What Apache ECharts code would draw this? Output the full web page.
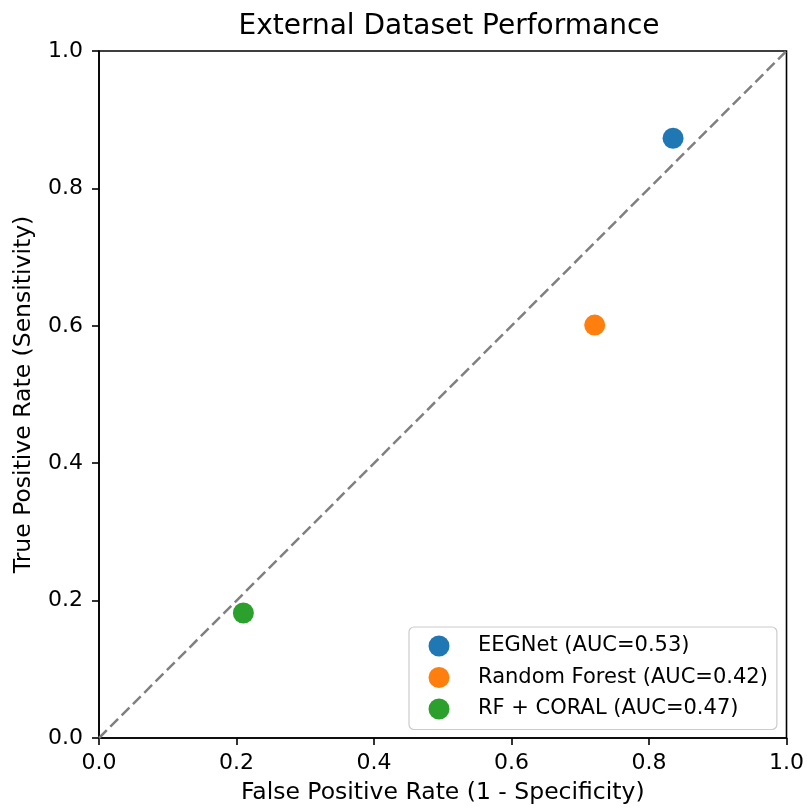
<!DOCTYPE html>
<html>
<head>
<meta charset="utf-8">
<script src="https://cdn.jsdelivr.net/npm/echarts@6/dist/echarts.min.js"></script>
<style>
  html, body { margin: 0; padding: 0; background: #fff; }
  #chart { width: 807px; height: 810px; }
</style>
</head>
<body>
<div id="chart"></div>
<script>
const modelNames = ['EEGNet (AUC=0.53)', 'Random Forest (AUC=0.42)', 'RF + CORAL (AUC=0.47)']
const modelColors = ['#1f77b4', '#ff7f0e', '#2ca02c']
const fprValues = [0.835, 0.721, 0.210]
const tprValues = [0.873, 0.601, 0.182]
const chanceLine = [[0, 0], [1, 1]]

const font = 'DejaVu Sans'
const chart = echarts.init(document.getElementById('chart'))

const axisCommon = {
  type: 'value',
  min: 0,
  max: 1,
  interval: 0.2,
  nameLocation: 'middle',
  nameTextStyle: { fontFamily: font, fontSize: 23.5, color: '#000' },
  axisLine: { show: true, lineStyle: { color: '#000', width: 1.6 } },
  axisTick: { show: true, inside: false, length: 7, lineStyle: { color: '#000', width: 1.6 } },
  axisLabel: { fontFamily: font, fontSize: 22, color: '#000', formatter: v => v.toFixed(1) },
  splitLine: { show: false }
}

const series = [
  {
    type: 'line',
    name: 'chance',
    data: chanceLine,
    symbol: 'none',
    silent: true,
    lineStyle: { color: '#808080', width: 2.5, type: [11, 5] },
    z: 1
  }
]
modelNames.forEach((name, i) => {
  series.push({
    type: 'scatter',
    name: name,
    data: [[fprValues[i], tprValues[i]]],
    symbol: 'circle',
    symbolSize: 21,
    itemStyle: { color: modelColors[i], opacity: 1 },
    z: 3
  })
})

chart.setOption({
  animation: false,
  backgroundColor: '#fff',
  title: {
    text: 'External Dataset Performance',
    left: 444,
    top: 8,
    textAlign: 'center',
    textStyle: { fontFamily: font, fontSize: 28, fontWeight: 'normal', color: '#000' }
  },
  grid: {
    left: 99, top: 51, width: 690, height: 690,
    show: true, borderColor: '#000', borderWidth: 1.6, backgroundColor: 'transparent'
  },
  xAxis: Object.assign({}, axisCommon, {
    name: 'False Positive Rate (1 - Specificity)',
    nameGap: 43,
    axisLabel: Object.assign({}, axisCommon.axisLabel, { margin: 14 })
  }),
  yAxis: Object.assign({}, axisCommon, {
    name: 'True Positive Rate (Sensitivity)',
    nameGap: 63,
    axisLabel: Object.assign({}, axisCommon.axisLabel, { margin: 16 })
  }),
  legend: {
    data: modelNames,
    orient: 'vertical',
    left: 409,
    top: 627,
    padding: [8.5, 9, 10, 19.5],
    itemWidth: 21,
    itemHeight: 21,
    itemGap: 10.5,
    icon: 'circle',
    borderColor: '#cccccc',
    borderWidth: 1.2,
    borderRadius: 5,
    backgroundColor: 'rgba(255,255,255,0.8)',
    textStyle: { fontFamily: font, fontSize: 21, lineHeight: 21, color: '#000', padding: [0, 0, 0, 23.5] }
  },
  series: series
})
</script>
</body>
</html>
